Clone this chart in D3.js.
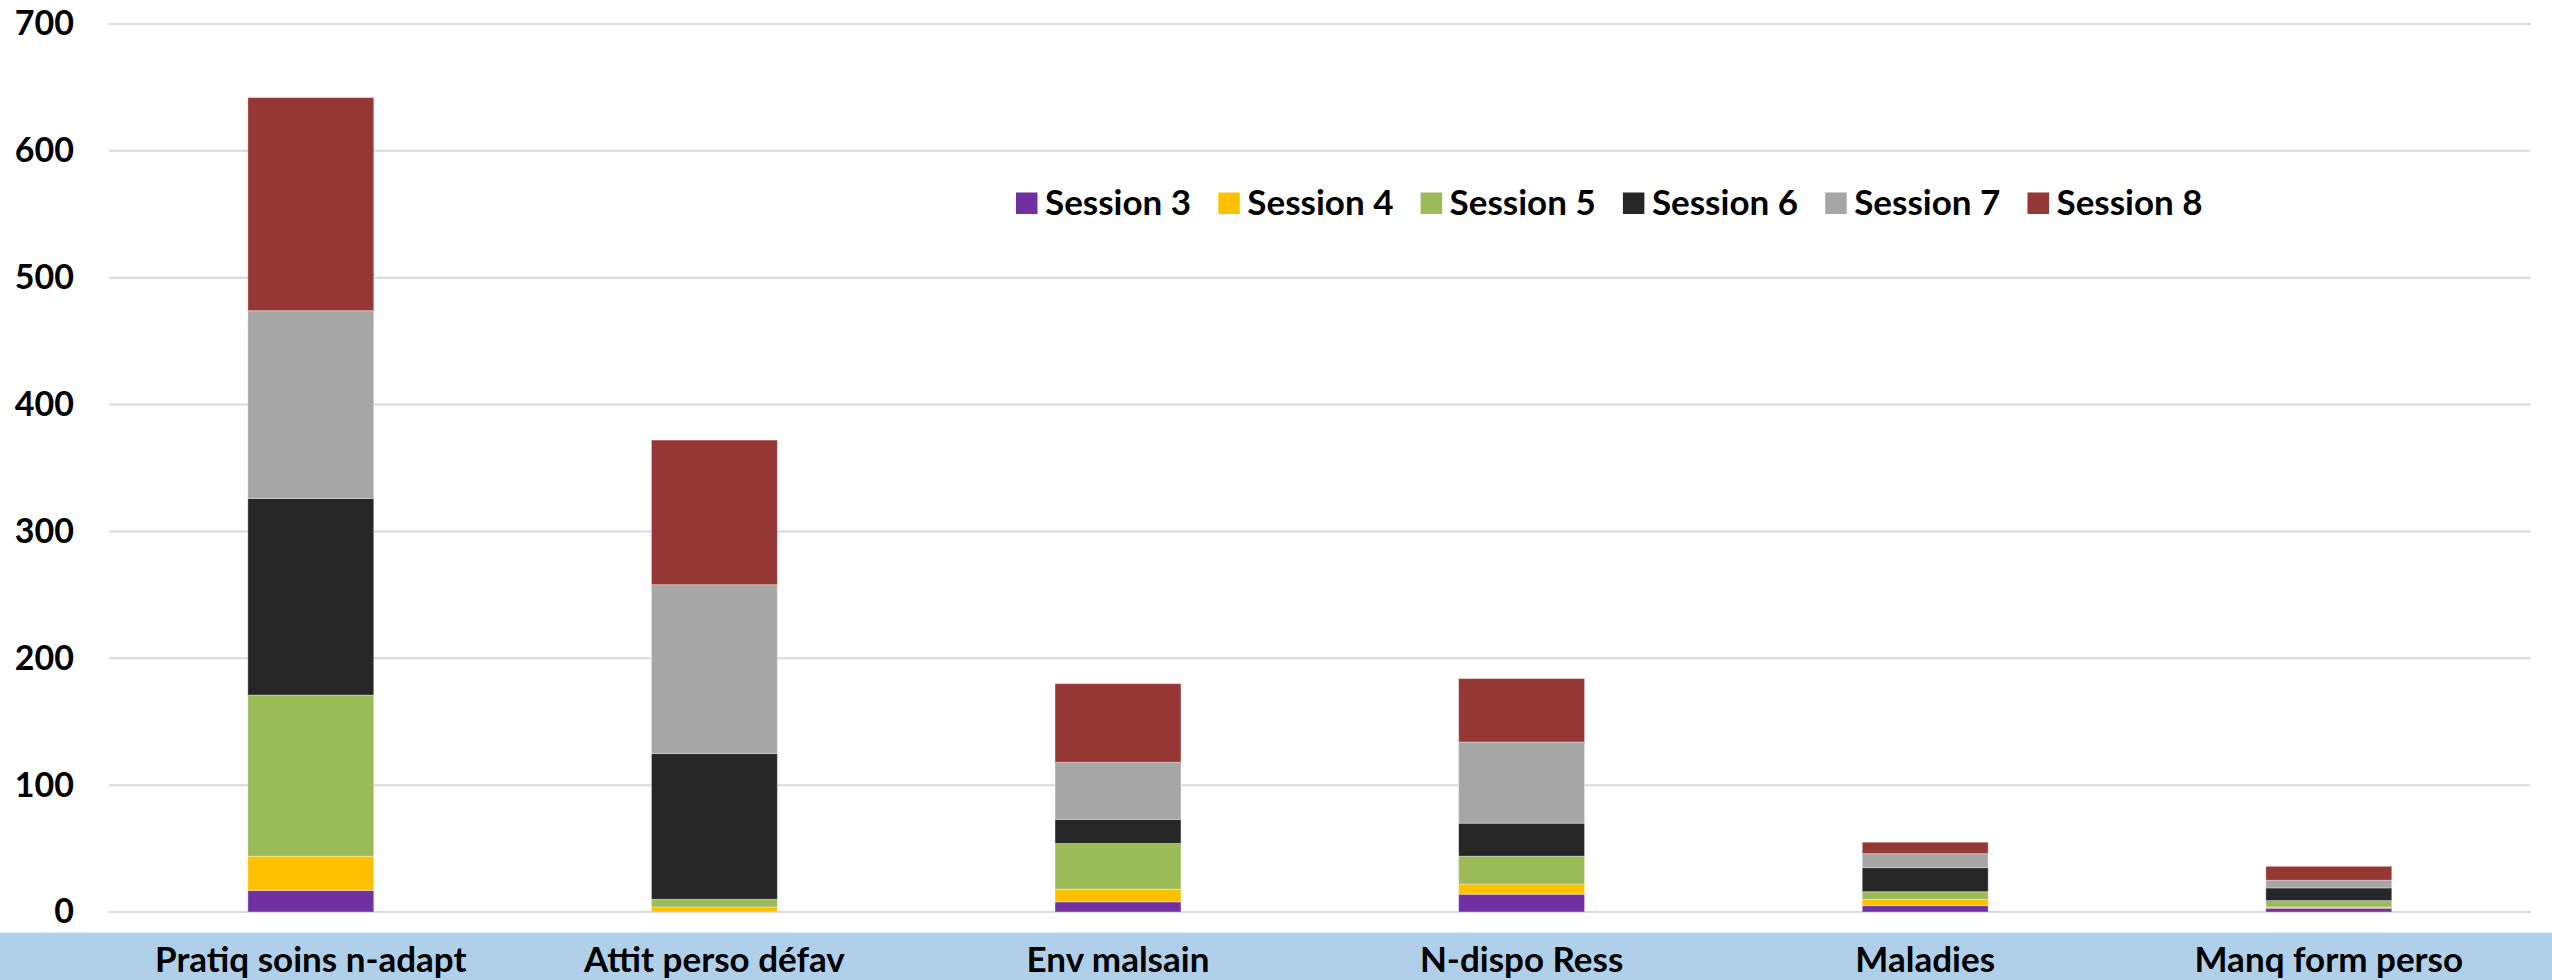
<!DOCTYPE html>
<html>
<head>
<meta charset="utf-8">
<script src="https://cdn.jsdelivr.net/npm/d3@7"></script>
<style>
  html, body { margin: 0; padding: 0; background: #fff; }
  svg { display: block; }
  text { font-family: Lato, "Open Sans", sans-serif; font-weight: 700; fill: #000; }
</style>
</head>
<body>
<script>
// categories and series values
const categories = ["Pratiq soins n-adapt", "Attit perso défav", "Env malsain", "N-dispo Ress", "Maladies", "Manq form perso"];
const seriesNames = ["Session 3", "Session 4", "Session 5", "Session 6", "Session 7", "Session 8"];
const session3 = [17, 0, 8, 14, 5, 3];
const session4 = [27, 4, 10, 8, 5, 1];
const session5 = [127, 6, 36, 22, 6, 5];
const session6 = [155, 115, 19, 26, 19, 10];
const session7 = [148, 133, 45, 64, 11, 6];
const session8 = [168, 114, 62, 50, 9, 11];
const colors = ["#7030A0", "#FFC000", "#9BBB59", "#262626", "#A6A6A6", "#953735"];
const yTicks = [0, 100, 200, 300, 400, 500, 600, 700];

const width = 2552, height = 980;
const svg = d3.select("body").append("svg")
              .attr("width", width)
              .attr("height", height);

// build rows for the stack
const seriesValues = [session3, session4, session5, session6, session7, session8];
const rows = categories.map((c, i) => {
  const r = { cat: c };
  seriesNames.forEach((s, j) => r[s] = seriesValues[j][i]);
  return r;
});
const stacked = d3.stack().keys(seriesNames)(rows);

const x = d3.scaleBand().domain(categories).range([109, 2530.6]).padding(0);
const y = d3.scaleLinear().domain([0, 700]).range([912, 24]);
const barW = x.bandwidth() * 0.312;

// x axis strip
svg.append("rect")
   .attr("x", 0).attr("y", 932.7)
   .attr("width", width).attr("height", height - 932.7)
   .attr("fill", "#B0D0E9");

// gridlines
svg.append("g")
   .selectAll("line")
   .data(yTicks)
   .enter().append("line")
   .attr("x1", 109).attr("x2", 2530.6)
   .attr("y1", d => y(d)).attr("y2", d => y(d))
   .attr("stroke", "#D9D9D9")
   .attr("stroke-width", 2);

// y axis labels
const yAxis = svg.append("g")
   .attr("transform", "translate(74,0)")
   .call(d3.axisLeft(y).tickValues(yTicks).tickSize(0).tickPadding(0));
yAxis.select(".domain").remove();
yAxis.selectAll("text")
     .style("font-family", "Lato, sans-serif")
     .style("font-weight", 700)
     .style("font-size", "34px")
     .attr("fill", "#000");

// bars
svg.append("g")
   .selectAll("g")
   .data(stacked)
   .enter().append("g")
   .attr("fill", (d, i) => colors[i])
   .selectAll("rect")
   .data(d => d)
   .enter().append("rect")
   .attr("x", d => x(d.data.cat) + (x.bandwidth() - barW) / 2)
   .attr("width", barW)
   .attr("y", d => y(d[1]))
   .attr("height", d => y(d[0]) - y(d[1]))
   .attr("stroke", "#fff")
   .attr("stroke-opacity", 0.35)
   .attr("stroke-width", 1);

// x labels
const xAxis = svg.append("g")
   .attr("transform", "translate(0,947)")
   .call(d3.axisBottom(x).tickSize(0).tickPadding(0));
xAxis.select(".domain").remove();
xAxis.selectAll("text")
     .attr("dy", "0.71em")
     .style("font-family", "Lato, sans-serif")
     .style("font-weight", 700)
     .style("font-size", "35px")
     .attr("fill", "#000");

// legend
const legend = svg.append("g")
   .selectAll("g")
   .data(seriesNames)
   .enter().append("g")
   .attr("transform", (d, i) => "translate(" + (1016 + i * 202.3) + ",192.5)");

legend.append("rect")
      .attr("width", 21.5).attr("height", 21.5)
      .attr("fill", (d, i) => colors[i]);

legend.append("text")
      .attr("x", 29)
      .attr("y", 22)
      .style("font-size", "35px")
      .text(d => d);
</script>
</body>
</html>
